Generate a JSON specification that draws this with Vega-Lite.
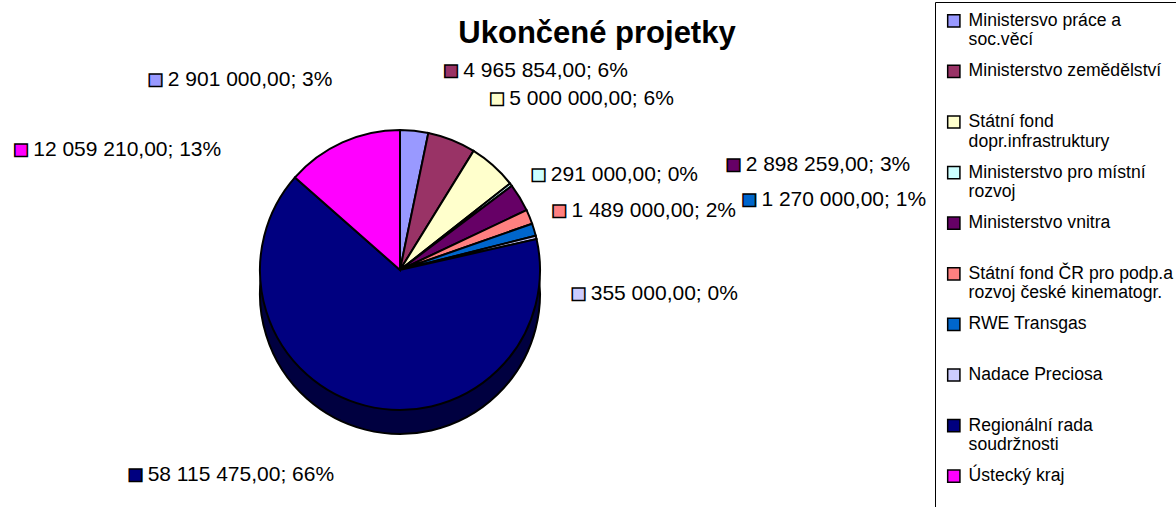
{
  "$schema": "https://vega.github.io/schema/vega-lite/v6.json",
  "autosize": {"type": "none"},
  "width": 800,
  "height": 430,
  "padding": {"left": 0, "top": 55, "right": 376, "bottom": 22},
  "background": "white",
  "title": {"text": "Ukončené projetky", "font": "Liberation Sans", "fontSize": 31, "fontWeight": "bold", "color": "black", "anchor": "middle", "baseline": "alphabetic", "dx": 197, "offset": -72},
  "config": {"view": {"stroke": null}},
  "data": {"values": [
    {"name": "Ministersvo práce a soc.věcí", "value": 2901000, "label": "2 901 000,00; 3%", "n": 1},
    {"name": "Ministerstvo zemědělství", "value": 4965854, "label": "4 965 854,00; 6%", "n": 2},
    {"name": "Státní fond dopr.infrastruktury", "value": 5000000, "label": "5 000 000,00; 6%", "n": 3},
    {"name": "Ministerstvo pro místní rozvoj", "value": 291000, "label": "291 000,00; 0%", "n": 4},
    {"name": "Ministerstvo vnitra", "value": 2898259, "label": "2 898 259,00; 3%", "n": 5},
    {"name": "Státní fond ČR pro podp.a rozvoj české kinematogr.", "value": 1489000, "label": "1 489 000,00; 2%", "n": 6},
    {"name": "RWE Transgas", "value": 1270000, "label": "1 270 000,00; 1%", "n": 7},
    {"name": "Nadace Preciosa", "value": 355000, "label": "355 000,00; 0%", "n": 8},
    {"name": "Regionální rada soudržnosti", "value": 58115475, "label": "58 115 475,00; 66%", "n": 9},
    {"name": "Ústecký kraj", "value": 12059210, "label": "12 059 210,00; 13%", "n": 10}
  ]},
  "encoding": {
    "theta": {"field": "value", "type": "quantitative", "stack": true},
    "order": {"field": "n", "type": "quantitative"}
  },
  "layer": [
    {
      "mark": {"type": "arc", "outerRadius": 140, "yOffset": 24, "fill": "#000040", "stroke": "black", "strokeWidth": 2}
    },
    {
      "mark": {"type": "arc", "outerRadius": 140, "stroke": "black", "strokeWidth": 2},
      "encoding": {
        "color": {
          "field": "name", "type": "nominal",
          "scale": {
            "domain": ["Ministersvo práce a soc.věcí", "Ministerstvo zemědělství", "Státní fond dopr.infrastruktury", "Ministerstvo pro místní rozvoj", "Ministerstvo vnitra", "Státní fond ČR pro podp.a rozvoj české kinematogr.", "RWE Transgas", "Nadace Preciosa", "Regionální rada soudržnosti", "Ústecký kraj"],
            "range": ["#9999FF", "#993366", "#FFFFCC", "#CCFFFF", "#660066", "#FF8080", "#0066CC", "#CCCCFF", "#000080", "#FF00FF"]
          },
          "legend": {
            "title": null, "orient": "none", "legendX": 935, "legendY": -53,
            "symbolType": "square", "symbolSize": 150, "symbolStrokeColor": "black", "symbolStrokeWidth": 1.5,
            "labelFont": "Liberation Sans", "labelFontSize": 17.6, "labelColor": "black", "labelLimit": 400,
            "labelOffset": 6, "rowPadding": 12.6, "padding": 10, "strokeColor": "black",
            "labelExpr": "datum.label == 'Ministersvo práce a soc.věcí' ? ['Ministersvo práce a', 'soc.věcí'] : datum.label == 'Státní fond dopr.infrastruktury' ? ['Státní fond', 'dopr.infrastruktury'] : datum.label == 'Ministerstvo pro místní rozvoj' ? ['Ministerstvo pro místní', 'rozvoj'] : datum.label == 'Státní fond ČR pro podp.a rozvoj české kinematogr.' ? ['Státní fond ČR pro podp.a', 'rozvoj české kinematogr.'] : datum.label == 'Regionální rada soudržnosti' ? ['Regionální rada', 'soudržnosti'] : [datum.label, '']"
          }
        }
      }
    },
    {
      "mark": {"type": "text", "radius": 155, "align": "left", "baseline": "middle", "dx": 8, "dy": 0, "font": "Liberation Sans", "fontSize": 26, "stroke": "black", "strokeWidth": 1.5},
      "encoding": {"text": {"condition": {"test": "datum.n == 4 || datum.n == 6", "value": "■"}, "value": ""}, "color": {"field": "name", "type": "nominal", "legend": null}}
    },
    {
      "mark": {"type": "text", "radius": 155, "align": "left", "baseline": "middle", "dx": 28, "dy": 0, "font": "Liberation Sans", "fontSize": 21, "fill": "black"},
      "encoding": {"text": {"condition": {"test": "datum.n == 4 || datum.n == 6", "field": "label"}, "value": ""}}
    },
    {
      "mark": {"type": "text", "radius": 155, "align": "left", "baseline": "middle", "dx": 20, "dy": 60, "font": "Liberation Sans", "fontSize": 26, "stroke": "black", "strokeWidth": 1.5},
      "encoding": {"text": {"condition": {"test": "datum.n == 8", "value": "■"}, "value": ""}, "color": {"field": "name", "type": "nominal", "legend": null}}
    },
    {
      "mark": {"type": "text", "radius": 155, "align": "left", "baseline": "middle", "dx": 40, "dy": 60, "font": "Liberation Sans", "fontSize": 21, "fill": "black"},
      "encoding": {"text": {"condition": {"test": "datum.n == 8", "field": "label"}, "value": ""}}
    },
    {
      "mark": {"type": "text", "radius": 155, "align": "left", "baseline": "middle", "dx": 193, "dy": -25, "font": "Liberation Sans", "fontSize": 26, "stroke": "black", "strokeWidth": 1.5},
      "encoding": {"text": {"condition": {"test": "datum.n == 5 || datum.n == 7", "value": "■"}, "value": ""}, "color": {"field": "name", "type": "nominal", "legend": null}}
    },
    {
      "mark": {"type": "text", "radius": 155, "align": "left", "baseline": "middle", "dx": 213, "dy": -25, "font": "Liberation Sans", "fontSize": 21, "fill": "black"},
      "encoding": {"text": {"condition": {"test": "datum.n == 5 || datum.n == 7", "field": "label"}, "value": ""}}
    },
    {
      "mark": {"type": "text", "radius": 155, "align": "left", "baseline": "middle", "dx": -14, "dy": -55, "font": "Liberation Sans", "fontSize": 26, "stroke": "black", "strokeWidth": 1.5},
      "encoding": {"text": {"condition": {"test": "datum.n == 2 || datum.n == 3", "value": "■"}, "value": ""}, "color": {"field": "name", "type": "nominal", "legend": null}}
    },
    {
      "mark": {"type": "text", "radius": 155, "align": "left", "baseline": "middle", "dx": 6, "dy": -55, "font": "Liberation Sans", "fontSize": 21, "fill": "black"},
      "encoding": {"text": {"condition": {"test": "datum.n == 2 || datum.n == 3", "field": "label"}, "value": ""}}
    },
    {
      "mark": {"type": "text", "radius": 155, "align": "left", "baseline": "middle", "dx": -268, "dy": -36, "font": "Liberation Sans", "fontSize": 26, "stroke": "black", "strokeWidth": 1.5},
      "encoding": {"text": {"condition": {"test": "datum.n == 1", "value": "■"}, "value": ""}, "color": {"field": "name", "type": "nominal", "legend": null}}
    },
    {
      "mark": {"type": "text", "radius": 155, "align": "left", "baseline": "middle", "dx": -248, "dy": -36, "font": "Liberation Sans", "fontSize": 21, "fill": "black"},
      "encoding": {"text": {"condition": {"test": "datum.n == 1", "field": "label"}, "value": ""}}
    },
    {
      "mark": {"type": "text", "radius": 155, "align": "left", "baseline": "middle", "dx": -323, "dy": 21, "font": "Liberation Sans", "fontSize": 26, "stroke": "black", "strokeWidth": 1.5},
      "encoding": {"text": {"condition": {"test": "datum.n == 10", "value": "■"}, "value": ""}, "color": {"field": "name", "type": "nominal", "legend": null}}
    },
    {
      "mark": {"type": "text", "radius": 155, "align": "left", "baseline": "middle", "dx": -303, "dy": 21, "font": "Liberation Sans", "fontSize": 21, "fill": "black"},
      "encoding": {"text": {"condition": {"test": "datum.n == 10", "field": "label"}, "value": ""}}
    },
    {
      "mark": {"type": "text", "radius": 155, "align": "left", "baseline": "middle", "dx": -234, "dy": 55, "font": "Liberation Sans", "fontSize": 26, "stroke": "black", "strokeWidth": 1.5},
      "encoding": {"text": {"condition": {"test": "datum.n == 9", "value": "■"}, "value": ""}, "color": {"field": "name", "type": "nominal", "legend": null}}
    },
    {
      "mark": {"type": "text", "radius": 155, "align": "left", "baseline": "middle", "dx": -214, "dy": 55, "font": "Liberation Sans", "fontSize": 21, "fill": "black"},
      "encoding": {"text": {"condition": {"test": "datum.n == 9", "field": "label"}, "value": ""}}
    }
  ]
}
